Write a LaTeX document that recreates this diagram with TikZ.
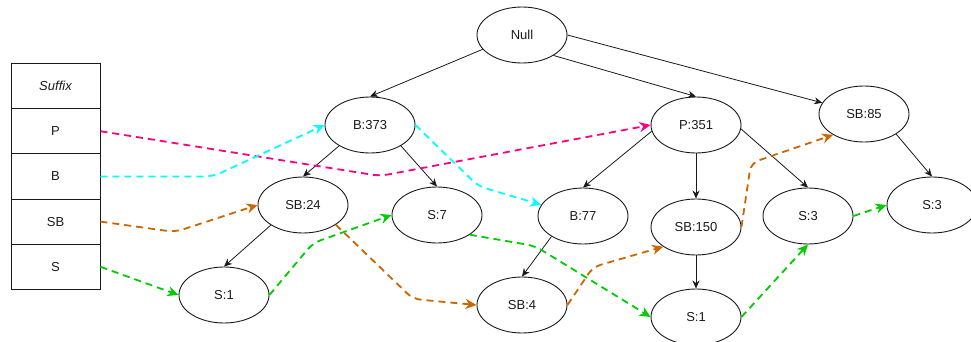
\documentclass[tikz,border=0pt]{standalone}
\usepackage{fontspec}
\setmainfont{Liberation Sans}
\usetikzlibrary{shapes.geometric,arrows.meta}
\definecolor{cpink}{HTML}{FF0080}
\definecolor{ccyan}{HTML}{00FFFF}
\definecolor{corange}{HTML}{CC6600}
\definecolor{cgreen}{HTML}{00CC00}
\definecolor{cline}{HTML}{1A1A1A}
\begin{document}
\begin{tikzpicture}[x=1pt,y=-1pt,
  tnode/.style={ellipse,draw=cline,line width=0.9pt,minimum width=90pt,minimum height=56pt,inner sep=0pt,font=\fontsize{13}{15}\selectfont,text=cline},
  trow/.style={rectangle,draw=cline,line width=0.9pt,minimum width=89pt,minimum height=45.2pt,inner sep=0pt,font=\fontsize{13}{15}\selectfont,text=cline},
  tedge/.style={draw=cline,line width=0.8pt,-{Stealth[length=8pt,width=7pt,inset=2.5pt]}},
  dlink/.style={line width=1.8pt,dash pattern=on 7pt off 5pt,rounded corners=8pt,-{Stealth[length=11pt,width=10pt,inset=3.5pt]}}
]
\useasboundingbox (0,0) rectangle (971,342);
% table
\node[trow] (tsuf) at (55.5,86) {\itshape Suffix};
\node[trow] (tp) at (55.5,131.2) {P};
\node[trow] (tb) at (55.5,176.4) {B};
\node[trow] (tsb) at (55.5,221.6) {SB};
\node[trow] (ts) at (55.5,266.8) {S};
% tree nodes
\node[tnode] (null) at (522,35) {Null};
\node[tnode] (b373) at (370,125) {B:373};
\node[tnode] (sb24) at (303,205) {SB:24};
\node[tnode] (s7) at (437,215) {S:7};
\node[tnode] (s1a) at (224,295) {S:1};
\node[tnode] (p351) at (696,125) {P:351};
\node[tnode] (sb85) at (864,114) {SB:85};
\node[tnode] (b77) at (583,216) {B:77};
\node[tnode] (sb150) at (696,227) {SB:150};
\node[tnode] (s3a) at (808,216) {S:3};
\node[tnode] (s3b) at (932,205) {S:3};
\node[tnode] (sb4) at (522,305) {SB:4};
\node[tnode] (s1b) at (696,317) {S:1};
% tree edges
\draw[tedge] (null.200) -- (b373.north);
\draw[tedge] (null.327) -- (p351.north);
\draw[tedge] (null.east) -- (sb85.165);
\draw[tedge] (b373.214) -- (sb24.north);
\draw[tedge] (b373.326) -- (s7.north);
\draw[tedge] (sb24.212) -- (s1a.north);
\draw[tedge] (p351.188) -- (b77.north);
\draw[tedge] (p351.south) -- (sb150.north);
\draw[tedge] (p351.355) -- (s3a.north);
\draw[tedge] (sb85.328) -- (s3b.north);
\draw[tedge] (b77.213) -- (sb4.north);
\draw[tedge] (sb150.south) -- (s1b.north);
% waypoints
\coordinate (wp) at (380,176);
\coordinate (wc1) at (213,176.4);
\coordinate (wc2) at (478,186);
\coordinate (wo1) at (175,232);
\coordinate (wo2) at (413,299);
\coordinate (wo3) at (593,267);
\coordinate (wo4) at (751,163);
\coordinate (wg2) at (313,243);
\coordinate (wg3) at (535,246);
% dashed links
\draw[dlink,cpink] (tp.east) -- (wp) -- (p351.west);
\draw[dlink,ccyan] (tb.east) -- (wc1) -- (b373.west);
\draw[dlink,ccyan] (b373.east) -- (wc2) -- (b77.165);
\draw[dlink,corange] (tsb.east) -- (wo1) -- (sb24.west);
\draw[dlink,corange] (sb24.329) -- (wo2) -- (sb4.west);
\draw[dlink,corange] (sb4.east) -- (wo3) -- (sb150.211);
\draw[dlink,corange] (sb150.east) -- (wo4) -- (sb85.214);
\draw[dlink,cgreen] (ts.east) -- (s1a.west);
\draw[dlink,cgreen] (s1a.east) -- (wg2) -- (s7.west);
\draw[dlink,cgreen] (s7.329) -- (wg3) -- (s1b.west);
\draw[dlink,cgreen] (s1b.east) -- (s3a.south);
\draw[dlink,cgreen] (s3a.east) -- (s3b.west);
\end{tikzpicture}
\end{document}
